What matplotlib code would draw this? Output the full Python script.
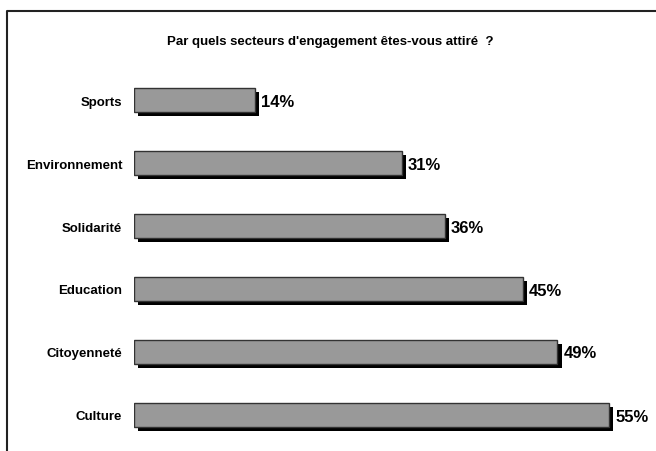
import matplotlib
matplotlib.use("Agg")
import matplotlib.pyplot as plt
import matplotlib.patheffects as pe
from matplotlib.lines import Line2D

# data
secteurs = ["Sports", "Environnement", "Solidarité", "Education", "Citoyenneté", "Culture"]
pourcents = [14, 31, 36, 45, 49, 55]
titre = "Par quels secteurs d'engagement êtes-vous attiré  ?"

plt.rcParams['font.family'] = ['Liberation Sans', 'DejaVu Sans']

W, H = 656, 452
fig = plt.figure(figsize=(W / 100, H / 100), dpi=100)

# axes placed in pixel units: x starts at 134px, 8.64 px per %
x0 = 134
ax = fig.add_axes([x0 / W, 0, (W - x0) / W, (H - 60) / H])
ax.set_xlim(0, (W - x0) / 8.64)
ypos = list(range(len(secteurs)))
ax.set_ylim((452 - 101) / 63, (60 - 101) / 63)

bars = ax.barh(ypos, pourcents, height=0.38, color="#999999",
               edgecolor="#333333", linewidth=1.0)
for b in bars:
    b.set_path_effects([pe.SimplePatchShadow(offset=(3, -3), shadow_rgbFace="black", alpha=1.0),
                        pe.Normal()])

for y, v in zip(ypos, pourcents):
    ax.annotate(f"{v}%", xy=(v, y), xytext=(6, -1), textcoords="offset pixels",
                ha="left", va="center", fontsize=12, fontweight="bold")

ax.set_yticks(ypos)
ax.set_yticklabels(secteurs, fontsize=9.5, fontweight="bold")
ax.tick_params(axis="y", length=0, pad=8.5)
ax.set_xticks([])
for s in ax.spines.values():
    s.set_visible(False)

fig.text(330 / W, 1 - 42 / H, titre, ha="center", va="center",
         fontsize=9.5, fontweight="bold")

# outer frame (left and top sides visible)
fx = 6.5 / W
fy = 1 - 11.5 / H
fig.add_artist(Line2D([fx, fx, 1.0], [0, fy, fy], transform=fig.transFigure,
                      color="#222222", linewidth=1.5))

fig.savefig("out.png", dpi=100)
